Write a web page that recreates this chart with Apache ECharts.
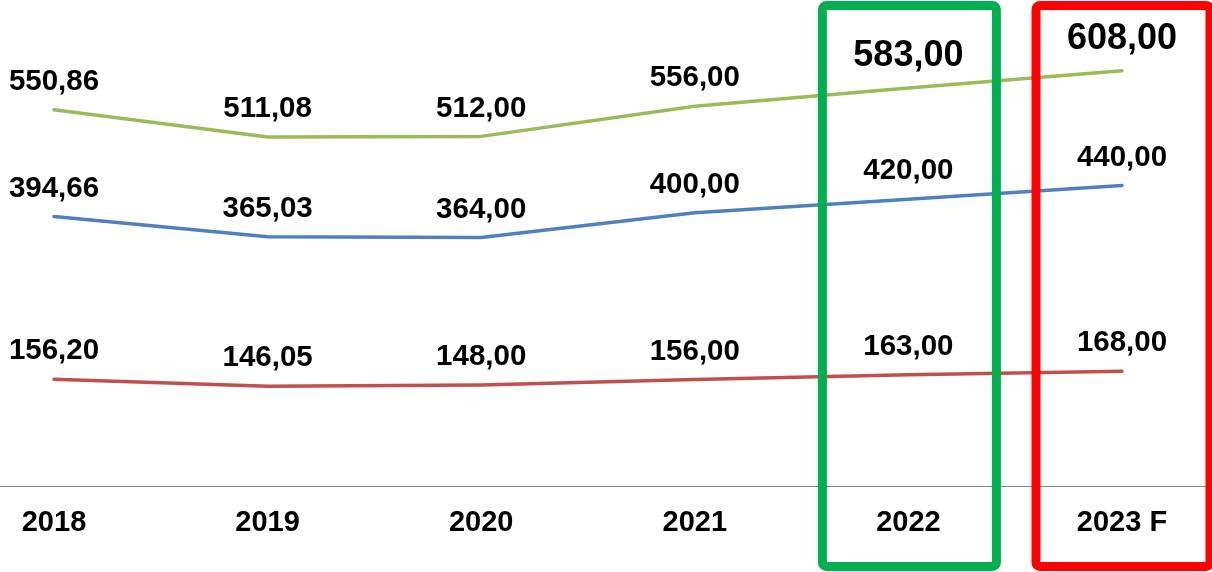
<!DOCTYPE html>
<html>
<head>
<meta charset="utf-8">
<script src="https://cdn.jsdelivr.net/npm/echarts@6/dist/echarts.min.js"></script>
<style>
  html, body { margin: 0; padding: 0; background: #fff; }
  #chart { width: 1212px; height: 572px; }
</style>
</head>
<body>
<div id="chart"></div>
<script>
const years = ['2018', '2019', '2020', '2021', '2022', '2023 F']
const topValues = [550.86, 511.08, 512.00, 556.00, 583.00, 608.00]
const midValues = [394.66, 365.03, 364.00, 400.00, 420.00, 440.00]
const lowValues = [156.20, 146.05, 148.00, 156.00, 163.00, 168.00]
// years whose top label is printed larger
const bigLabelYears = ['2022', '2023 F']
// highlighted columns and their frame colours
const framedYears = ['2022', '2023 F']
const frameColors = ['#00b050', '#ff0000']

const FONT = '"Liberation Sans", Arial, sans-serif'
const fmt = v => v.toFixed(2).replace('.', ',')

function lineSeries(name, values, color, bigYears) {
  return {
    name: name,
    type: 'line',
    symbol: 'circle',
    symbolSize: 2,
    silent: true,
    itemStyle: { color: color },
    lineStyle: { color: color, width: 3.5, cap: 'round', join: 'round' },
    label: {
      show: true,
      position: 'top',
      distance: 12,
      color: '#000',
      fontFamily: FONT,
      fontWeight: 'bold',
      fontSize: 29.5,
      formatter: p => fmt(p.value)
    },
    data: values.map((v, i) => {
      if (bigYears && bigYears.includes(years[i])) {
        return { value: v, label: { fontSize: 36, distance: 12.5 } }
      }
      return v
    })
  }
}

const chart = echarts.init(document.getElementById('chart'))

chart.setOption({
  animation: false,
  backgroundColor: '#fff',
  grid: { left: 54, right: 90, top: 8, bottom: 86 },
  xAxis: {
    type: 'category',
    boundaryGap: false,
    data: years,
    axisLine: { show: false },
    axisTick: { show: false },
    axisLabel: {
      color: '#000',
      fontFamily: FONT,
      fontWeight: 'bold',
      fontSize: 29,
      margin: 22
    }
  },
  yAxis: {
    type: 'value',
    min: 0,
    max: 700,
    show: false,
    splitLine: { show: false }
  },
  series: [
    lineSeries('top', topValues, '#9bbb59', bigLabelYears),
    lineSeries('mid', midValues, '#4f81bd'),
    lineSeries('low', lowValues, '#c0504d')
  ]
})

// baseline across the whole width, at value 0
const y0 = Math.round(chart.convertToPixel({ yAxisIndex: 0 }, 0)) + 0.5
const graphics = [{
  type: 'line',
  z: 50,
  silent: true,
  shape: { x1: 0, y1: y0, x2: 1212, y2: y0 },
  style: { stroke: '#868686', lineWidth: 1 }
}]
// frames around highlighted years, placed from the category axis
framedYears.forEach((y, i) => {
  const cx = chart.convertToPixel({ xAxisIndex: 0 }, y)
  graphics.push({
    type: 'rect',
    z: 100,
    silent: true,
    shape: { x: cx - 86, y: 5.5, width: 174, height: 561, r: 4 },
    style: { fill: null, stroke: frameColors[i], lineWidth: 9 }
  })
})
chart.setOption({ graphic: graphics })
</script>
</body>
</html>
